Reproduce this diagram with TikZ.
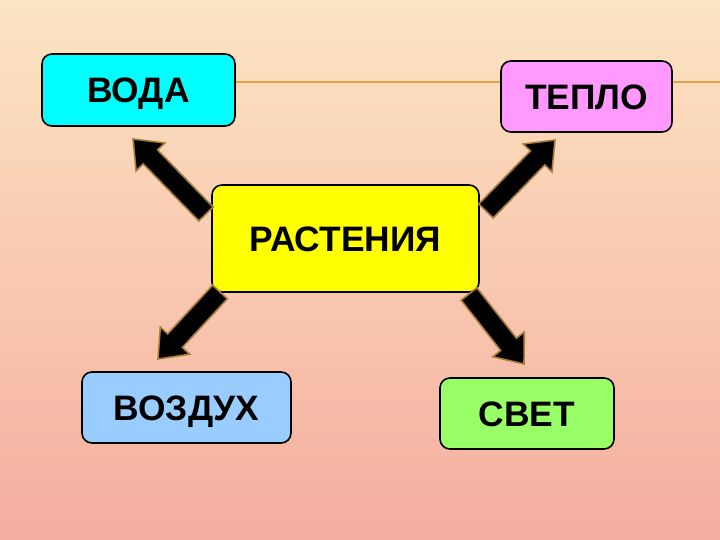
\documentclass[tikz,border=0pt]{standalone}
\usepackage{fontspec}
\setmainfont{Liberation Sans}
\usetikzlibrary{calc}
\definecolor{bgtop}{HTML}{FBE5C2}
\definecolor{bgmid}{HTML}{F9C9B1}
\definecolor{bgbot}{HTML}{F4AE9F}
\definecolor{lineorange}{HTML}{E8A048}
\definecolor{arrowrim}{HTML}{A87C3C}
\definecolor{cwater}{HTML}{00FFFF}
\definecolor{cheat}{HTML}{FF99FF}
\definecolor{cplant}{HTML}{FFFF00}
\definecolor{cair}{HTML}{99CCFF}
\definecolor{clight}{HTML}{99FF66}
\tikzset{
  box/.style={draw=black, line width=1.6bp, rounded corners=10bp, inner sep=0pt,
    font=\bfseries\fontsize{35.5}{40}\selectfont, text=black,
    text height=25.4bp, text depth=0bp},
  blockarrowstyle/.style={fill=black, draw=arrowrim, line width=1.6bp, line join=miter}
}
\newcommand\blockarr[2]{%
  \coordinate (#1base) at ($(#2)!25bp!(#1)$);
  \path[blockarrowstyle]
    ($(#1)!10bp!90:(#2)$) --
    ($(#1base)!10bp!90:(#2)$) --
    ($(#1base)!20bp!90:(#2)$) --
    (#2) --
    ($(#1base)!20bp!-90:(#2)$) --
    ($(#1base)!10bp!-90:(#2)$) --
    ($(#1)!10bp!-90:(#2)$) -- cycle;}
\begin{document}
\begin{tikzpicture}[x=1bp, y=-1bp]
\useasboundingbox (0,0) rectangle (720,540);
\shade[top color=bgtop, bottom color=bgbot, middle color=bgmid] (0,0) rectangle (720,540);
% nodes
\node[box, fill=cwater, minimum width=193bp, minimum height=72bp] (water) at (138.5,90) {ВОДА};
\coordinate (lineend) at (720,82);
\draw[lineorange, line width=2bp] (water.east |- lineend) -- (lineend);
\node[box, fill=cheat, minimum width=171bp, minimum height=71bp] (heat) at (586.5,96.5) {ТЕПЛО};
\node[box, fill=cplant, minimum width=267bp, minimum height=107bp] (plant) at (345.5,238.5) {РАСТЕНИЯ};
\node[box, fill=cair, minimum width=209bp, minimum height=71bp] (air) at (186.5,407.5) {ВОЗДУХ};
\node[box, fill=clight, minimum width=174bp, minimum height=71bp] (light) at (527,413.5) {СВЕТ};
% arrows
\coordinate (tnw) at (206,214); \coordinate (hnw) at (133,139);
\coordinate (tne) at (486,211); \coordinate (hne) at (555,140);
\coordinate (tsw) at (220,292); \coordinate (hsw) at (158,359);
\coordinate (tse) at (469,294); \coordinate (hse) at (524,364);
\blockarr{tnw}{hnw}
\blockarr{tne}{hne}
\blockarr{tsw}{hsw}
\blockarr{tse}{hse}
\end{tikzpicture}
\end{document}
